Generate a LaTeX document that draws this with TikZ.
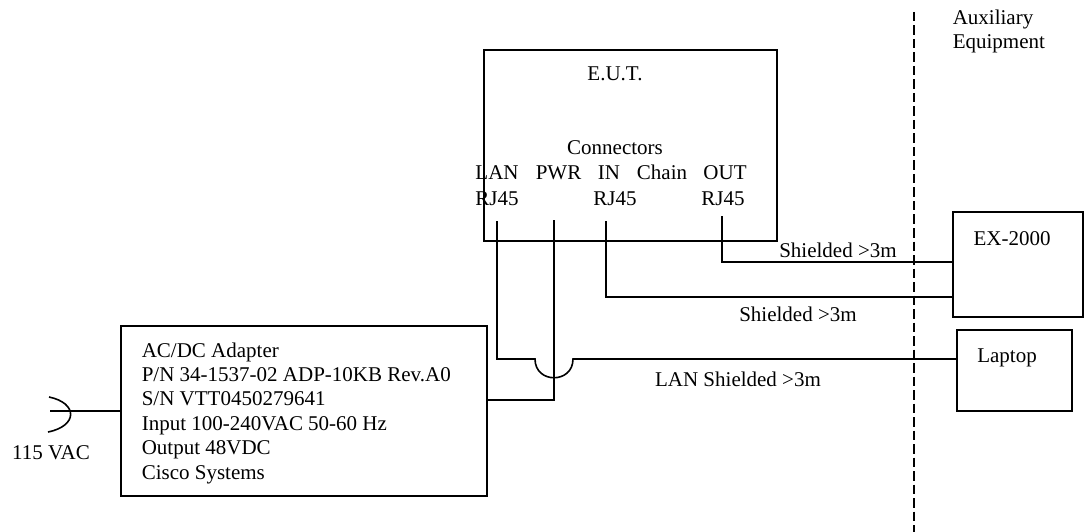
\documentclass[tikz,border=0pt]{standalone}
\usepackage{fontspec}
\setmainfont{Liberation Serif}
\tikzset{
  box/.style = {draw, rectangle, outer sep = 0pt, inner sep = 0pt},
  txt/.style = {font = \fontsize{21}{24.4}\selectfont, inner sep = 0pt, align = left, anchor = base}
}

\begin{document}
\begin{tikzpicture} [x = 1pt, y = -1pt, line width = 1.6pt]
\useasboundingbox (0, 0) rectangle (1085, 532);
\draw[dash pattern = on 9.5pt off 4pt] (914, 12) -- (914, 532);
\node[box, minimum width = 293pt, minimum height = 191pt] (eut) at (630.5, 145.5) {};
\node[box, minimum width = 130pt, minimum height = 105pt] (exbox) at (1018, 264.5) {};
\node[box, minimum width = 115pt, minimum height = 81pt] (laptop) at (1014.5, 370.5) {};
\node[box, minimum width = 366pt, minimum height = 170pt] (adapter) at (304, 411) {};
\node[txt, anchor = base west] (adaptername) at (141, 479) {AC/DC Adapter\\P/N 34-1537-02 ADP-10KB Rev.A0\\S/N VTT0450279641\\Input 100-240VAC 50-60 Hz\\Output 48VDC\\Cisco Systems};
\node[txt] (euttitle) at (615, 81) {E.U.T.};
\node[txt] (connectors) at (615, 155) {Connectors};
\node[txt] (lanname) at (497, 179) {LAN};
\node[txt] (pwrname) at (558.5, 179) {PWR};
\node[txt] (inname) at (609, 179) {IN};
\node[txt] (chainname) at (662, 179) {Chain};
\node[txt] (outname) at (725, 179) {OUT};
\node[txt] (lanjack) at (497, 205) {RJ45};
\node[txt] (injack) at (615, 205) {RJ45};
\node[txt] (outjack) at (723, 205) {RJ45};
\node[txt, anchor = base west] (auxname) at (952, 49) {Auxiliary\\Equipment};
\node[txt] (exname) at (1012, 245) {EX-2000};
\node[txt] (laptopname) at (1007, 362) {Laptop};
\node[txt] (outcable) at (838, 257) {Shielded >3m};
\node[txt] (incable) at (798, 321) {Shielded >3m};
\node[txt] (lancable) at (738, 386) {LAN Shielded >3m};
\node[txt] (mains) at (51, 459) {115 VAC};
\coordinate (lanport) at (497, 221);
\coordinate (pwrport) at (554, 220);
\coordinate (inport) at (606, 221);
\coordinate (outport) at (722, 216);
\coordinate (hopleft) at (535, 359);
\coordinate (hopright) at (573, 359);
\coordinate (pwrin) at (487, 400);
\coordinate (exout) at (953, 262);
\coordinate (exin) at (953, 297);
\coordinate (plugtip) at (50, 411);
\coordinate (plugtop) at (49, 397);
\coordinate (plugbot) at (48, 432);
\draw (outport) |- (exout);
\draw (inport) |- (exin);
\draw (pwrport) |- (pwrin);
\draw (lanport) |- (hopleft) .. controls (535, 384) and (573, 384) .. (hopright) -- (laptop.west |- hopright);
\draw (plugtip) -- (adapter.west);
\draw (plugtop) .. controls (78, 403) and (78, 426) .. (plugbot);
\end{tikzpicture}
\end{document}
